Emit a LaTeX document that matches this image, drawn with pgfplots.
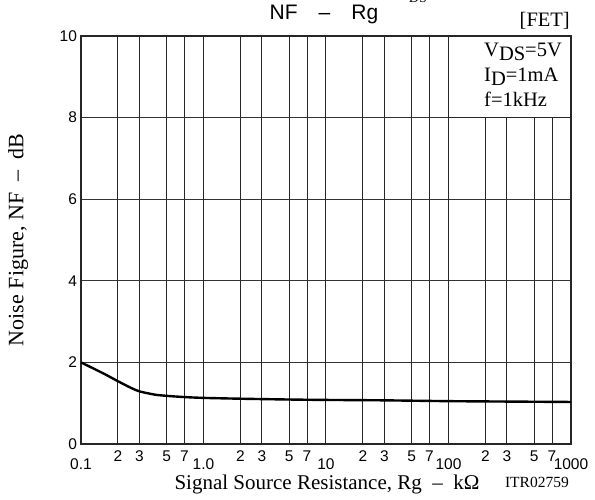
\documentclass[border=0pt]{standalone}
\usepackage{fontspec}
\setmainfont{Liberation Serif}
\newfontfamily\lsans{Liberation Sans}
\usepackage{pgfplots}
\pgfplotsset{compat=1.18}
\newcommand{\dec}[1]{\raisebox{-8pt}{#1}}
\begin{document}
\begin{tikzpicture}
\begin{axis}[
  xmode=log, log basis x=10,
  scale only axis, width=490pt, height=408pt,
  xmin=0.1, xmax=1000, ymin=0, ymax=10,
  xtick={0.1,0.2,0.3,0.5,0.7,1,2,3,5,7,10,20,30,50,70,100,200,300,500,700,1000},
  xticklabels={\dec{0.1},2,3,5,7,\dec{1.0},2,3,5,7,\dec{10},2,3,5,7,\dec{100},2,3,5,7,\dec{1000}},
  minor xtick={},
  extra x ticks={1,10,100},
  extra x tick labels={},
  extra x tick style={grid=major, major grid style={black!95, line width=1.4pt}},
  ytick={0,2,4,6,8,10},
  yticklabels={0,2,4,6,8,10},
  xmajorgrids, ymajorgrids,
  major tick length=0pt, minor tick length=0pt,
  x grid style={black!85, line width=1.0pt},
  y grid style={black!80, line width=0.9pt},
  axis line style={black!85, line width=1.3pt},
  tick label style={font=\lsans\fontsize{15.5}{17}\selectfont},
  xticklabel style={anchor=base, yshift=-17.5pt},
  yticklabel style={anchor=east, xshift=-0.5pt},
  clip=false,
]
\addplot[black, line width=2.4pt, smooth, tension=0.4] coordinates {
  (0.1,2.0) (0.15,1.74) (0.2,1.54) (0.25,1.39) (0.3,1.29) (0.4,1.21)
  (0.5,1.18) (0.7,1.15) (1,1.13) (2,1.11) (5,1.09) (10,1.08)
  (30,1.07) (100,1.05) (300,1.04) (1000,1.03)};
\filldraw[fill=white, draw=black!85, line width=1.1pt] (axis cs:100,8) rectangle (axis cs:1000,10);
\end{axis}
% title and annotations (axis box lower-left at origin, 1pt = 1px)
\node[anchor=base, font=\lsans\fontsize{21}{24}\selectfont, inner sep=0] at (243pt,424pt) {NF\quad\textendash\quad Rg};
\node[anchor=base east, font=\fontsize{20.5}{24}\selectfont, inner sep=0] at (489pt,417pt) {[FET]};
\node[anchor=base west, font=\fontsize{20.5}{24}\selectfont, inner sep=0] at (403pt,387pt) {V\raisebox{-4pt}{DS}=5V};
\node[anchor=base west, font=\fontsize{20.5}{24}\selectfont, inner sep=0] at (403pt,362pt) {I\raisebox{-4pt}{D}=1mA};
\node[anchor=base west, font=\fontsize{20.5}{24}\selectfont, inner sep=0] at (403pt,337pt) {f=1kHz};
\node[rotate=90, font=\fontsize{22}{24}\selectfont, inner sep=0] at (-63pt,204pt) {Noise Figure, NF\ \ --\ \ dB};
\node[anchor=base, font=\fontsize{21}{24}\selectfont, inner sep=0] at (246pt,-46pt) {Signal Source Resistance, Rg\ \ --\ \ kΩ};
\node[anchor=base east, font=\fontsize{15.5}{18}\selectfont, inner sep=0] at (488pt,-44pt) {ITR02759};
\node[anchor=base east, font=\fontsize{20}{24}\selectfont, inner sep=0] at (346pt,448pt) {Rg, V\raisebox{-7pt}{\fontsize{14}{14}\selectfont DS}};
\pgfresetboundingbox
\path (-81pt,-56pt) rectangle (514pt,444pt);
\end{tikzpicture}
\end{document}
